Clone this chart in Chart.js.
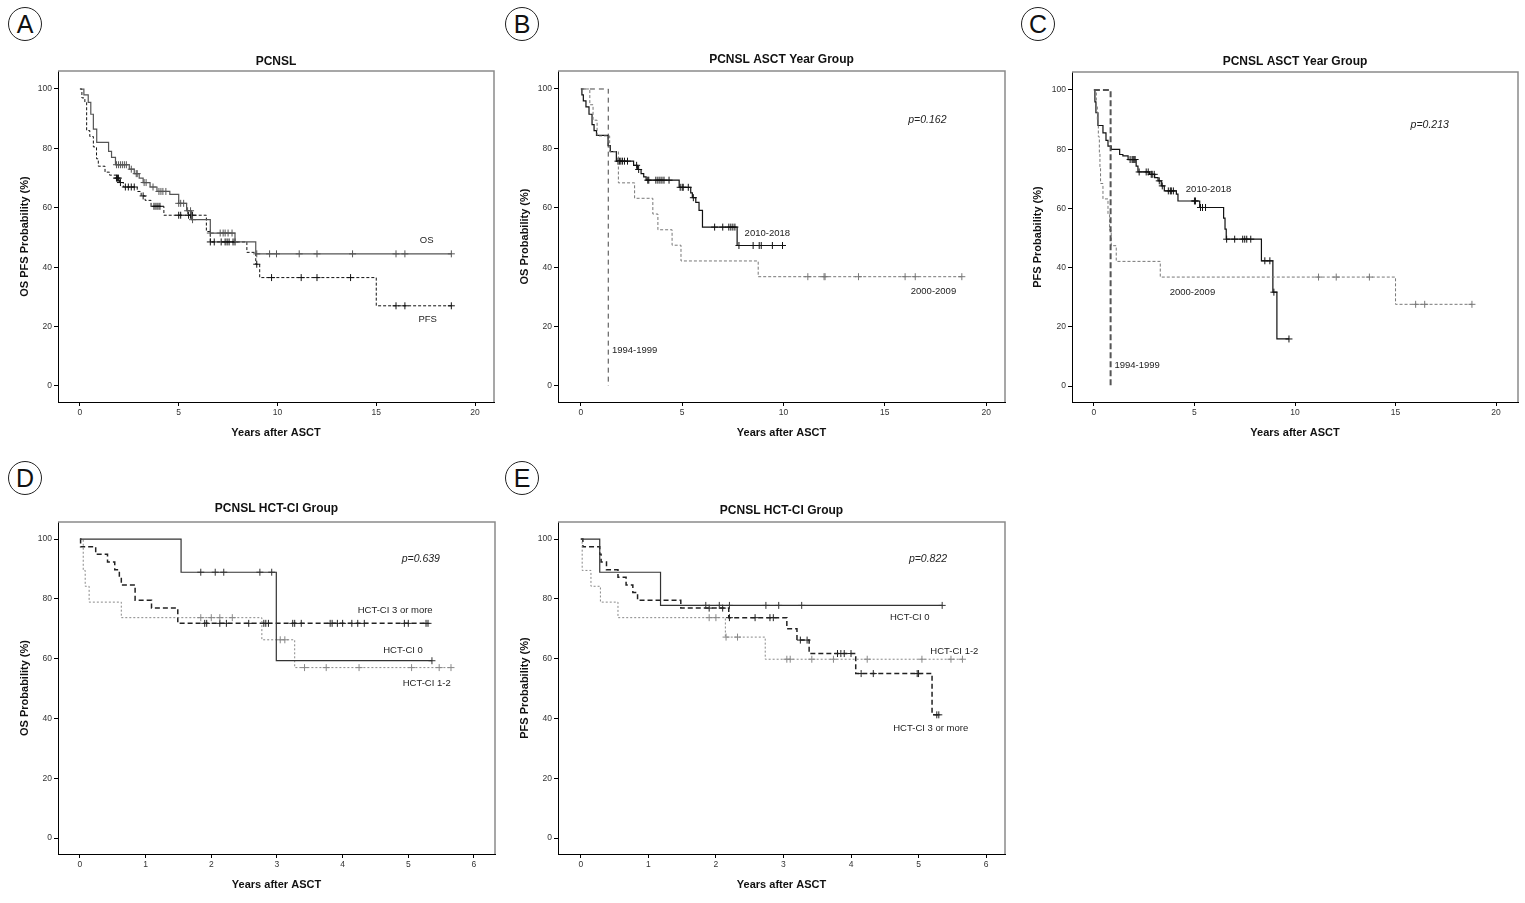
<!DOCTYPE html>
<html>
<head>
<meta charset="utf-8">
<title>PCNSL survival after ASCT</title>
<script src="https://cdn.jsdelivr.net/npm/chart.js"></script>
<style>
  body { margin:0; background:#fff; width:1525px; height:903px; position:relative; overflow:hidden; font-family:"Liberation Sans", Arial, sans-serif; }
  canvas { position:absolute; }
  .tag { position:absolute; width:32px; height:32px; border:1px solid #222; border-radius:50%; text-align:center; line-height:33px; font-size:25px; color:#111; }
</style>
</head>
<body>
<div class="tag" style="left:8px;top:7px">A</div>
<div class="tag" style="left:505px;top:7px">B</div>
<div class="tag" style="left:1021px;top:7px">C</div>
<div class="tag" style="left:8px;top:461px">D</div>
<div class="tag" style="left:505px;top:461px">E</div>

<canvas id="chartA" width="500" height="414" style="left:0;top:31px"></canvas>
<canvas id="chartB" width="510" height="414" style="left:500px;top:31px"></canvas>
<canvas id="chartC" width="515" height="413" style="left:1010px;top:32px"></canvas>
<canvas id="chartD" width="500" height="415" style="left:0;top:482px"></canvas>
<canvas id="chartE" width="510" height="415" style="left:500px;top:482px"></canvas>

<script>
// ---- data (years, survival %) ----
// A: whole cohort
const aOsTime = [0, 0.2, 0.42, 0.55, 0.68, 0.85, 1.45, 1.6, 1.8, 2.5, 2.75, 3.0, 3.2, 3.55, 3.9, 4.55, 5.0, 5.4, 5.65, 6.6, 7.85, 8.9, 18.8];
const aOsSurv = [100, 98, 95.5, 91.5, 86.5, 82, 79, 77, 74.5, 73, 71.5, 70, 68.5, 67, 65.5, 64.5, 61.5, 59, 56, 51.5, 48.5, 44.5, 44.5];
const aOsCens = [1.85, 1.95, 2.05, 2.15, 2.25, 2.35, 2.6, 2.85, 2.9, 3.25, 3.35, 3.7, 4.0, 4.1, 4.2, 4.35, 5.0, 5.1, 5.25, 5.45, 5.6, 5.7,
                 6.6, 7.1, 7.25, 7.35, 7.5, 7.7, 8.95, 9.6, 9.95, 11.1, 12.0, 13.8, 16.0, 16.45, 18.8];
const aPfsTime = [0, 0.1, 0.25, 0.34, 0.5, 0.68, 0.84, 0.93, 1.27, 1.5, 1.85, 2.0, 2.2, 2.9, 3.1, 3.3, 3.6, 4.25, 6.4, 6.6, 8.45, 8.9, 9.1, 15.0, 18.8];
const aPfsSurv = [100, 97, 95.5, 86, 84, 80.5, 76.5, 74, 72, 71, 70, 68.5, 67, 65.5, 64, 62.5, 60.5, 57.5, 52, 48.5, 45, 41, 36.5, 27, 27];
const aPfsCens = [1.85, 1.9, 1.95, 2.05, 2.3, 2.45, 2.6, 2.75, 3.2, 3.75, 3.85, 3.95, 4.05, 5.0, 5.1, 5.5, 5.6, 5.7,
                  6.6, 6.8, 7.15, 7.35, 7.45, 7.55, 7.75, 7.85, 8.95, 9.7, 11.2, 12.0, 13.7, 16.0, 16.45, 18.8];

// B: OS by ASCT year group
const b94Time = [0, 1.35];
const b94Surv = [100, 0];
const b00Time = [0, 0.44, 0.6, 0.8, 1.42, 1.85, 2.65, 3.55, 3.8, 4.5, 4.94, 8.75, 18.8];
const b00Surv = [100, 94.7, 89.5, 84.2, 78.9, 68.4, 63.2, 57.9, 52.6, 47.4, 42.1, 36.8, 36.8];
const b00Cens = [11.2, 12.0, 12.05, 13.7, 16.0, 16.5, 18.8];
const b10Time = [0, 0.05, 0.12, 0.25, 0.4, 0.55, 0.65, 0.77, 1.34, 1.45, 1.75, 2.6, 2.8, 2.97, 3.1, 3.22, 4.85, 5.42, 5.5, 5.67, 5.83, 6.0, 7.71, 10.0];
const b10Surv = [100, 98, 96, 94, 91.5, 88, 86, 84.4, 80.9, 78.9, 75.7, 74.3, 72.9, 71.5, 70.4, 69.3, 66.9, 65, 63.4, 61.8, 59.1, 53.5, 47.3, 47.3];
const b10Cens = [1.83, 1.9, 1.97, 2.05, 2.15, 2.3, 2.75, 2.85, 3.3, 3.35, 3.7, 3.8, 3.9, 4.0, 4.1, 4.35, 4.9, 5.0, 5.05, 5.3, 5.55,
                 6.6, 7.0, 7.3, 7.4, 7.5, 7.6, 7.8, 8.5, 8.8, 8.9, 9.45, 9.95];

// C: PFS by ASCT year group
const c94Time = [0, 0.83];
const c94Surv = [100, 0];
const c00Time = [0, 0.12, 0.17, 0.22, 0.27, 0.3, 0.33, 0.45, 0.7, 0.78, 0.86, 1.11, 3.3, 15.0, 18.8];
const c00Surv = [100, 94.7, 89.5, 84.2, 78.9, 73.7, 68.4, 63.2, 57.9, 52.6, 47.4, 42.1, 36.8, 27.6, 27.6];
const c00Cens = [11.17, 12.05, 13.7, 16.0, 16.45, 18.8];
const c10Time = [0, 0.05, 0.1, 0.2, 0.45, 0.6, 0.7, 0.86, 1.28, 1.44, 1.7, 2.1, 2.19, 2.77, 3.02, 3.19, 3.35, 3.5, 4.1, 4.18, 5.26, 6.45, 6.52, 6.58, 8.33, 8.9, 9.1, 9.7];
const c10Surv = [100, 96, 92.3, 88, 85.5, 83, 81, 79.9, 78.2, 77.7, 76.5, 74.3, 72.3, 71.5, 70.4, 69.3, 67.6, 65.9, 64.8, 62.5, 60.3, 56.7, 53, 49.6, 42.3, 31.7, 15.9, 15.9];
const c10Cens = [1.8, 1.9, 1.95, 2.0, 2.05, 2.25, 2.6, 2.7, 2.85, 2.9, 3.0, 3.25, 3.4, 3.7, 3.8, 3.85, 3.95, 5.0, 5.05, 5.3, 5.4, 5.55,
                 6.6, 7.0, 7.4, 7.5, 7.6, 7.8, 8.5, 8.75, 8.95, 9.7];

// D: OS by HCT-CI group
const d0Time = [0, 1.54, 2.99, 5.36];
const d0Surv = [100, 88.9, 59.3, 59.3];
const d0Cens = [1.84, 2.06, 2.19, 2.74, 2.92, 5.36];
const d12Time = [0, 0.05, 0.08, 0.14, 0.63, 2.77, 3.27, 5.65];
const d12Surv = [100, 89.5, 84.2, 78.9, 73.7, 66.3, 57.0, 57.0];
const d12Cens = [1.84, 2.0, 2.13, 2.32, 3.05, 3.12, 3.42, 3.75, 4.25, 5.05, 5.47, 5.65];
const d3Time = [0, 0.01, 0.24, 0.42, 0.53, 0.6, 0.63, 0.84, 1.09, 1.49, 5.3];
const d3Surv = [100, 97.4, 94.9, 92.3, 89.7, 87.2, 84.6, 79.5, 76.9, 71.8, 71.8];
const d3Cens = [1.9, 1.93, 2.13, 2.23, 2.57, 2.8, 2.83, 2.87, 3.24, 3.27, 3.37, 3.81, 3.84, 3.92, 4.0, 4.14, 4.23, 4.33, 4.94, 5.0, 5.27, 5.3];

// E: PFS by HCT-CI group
const e0Time = [0, 0.28, 1.18, 5.35];
const e0Surv = [100, 88.9, 77.8, 77.8];
const e0Cens = [1.85, 2.05, 2.2, 2.74, 2.93, 3.27, 5.35];
const e12Time = [0, 0.02, 0.15, 0.29, 0.55, 2.14, 2.73, 5.65];
const e12Surv = [100, 89.5, 84.2, 78.9, 73.7, 67.2, 59.8, 59.8];
const e12Cens = [1.9, 2.0, 2.15, 2.32, 3.05, 3.1, 3.42, 3.74, 4.24, 5.05, 5.48, 5.65];
const e3Time = [0, 0.03, 0.28, 0.3, 0.38, 0.55, 0.67, 0.77, 0.84, 1.48, 2.19, 3.05, 3.2, 3.38, 4.07, 5.2, 5.3];
const e3Surv = [100, 97.4, 94.9, 92.3, 89.7, 87.2, 84.6, 82.1, 79.5, 76.9, 73.7, 70.0, 66.2, 61.7, 55.0, 41.2, 41.2];
const e3Cens = [1.9, 2.1, 2.2, 2.58, 2.8, 2.85, 3.25, 3.35, 3.8, 3.85, 3.9, 4.0, 4.15, 4.33, 4.98, 5.0, 5.27, 5.3];

const yTicks = [0, 20, 40, 60, 80, 100];
const xTicksLong = [0, 5, 10, 15, 20];
const xTicksShort = [0, 1, 2, 3, 4, 5, 6];

// ---- helpers ----
function stepAt(times, surv, t) {
  let s = surv[0];
  for (let i = 0; i < times.length; i++) if (times[i] <= t) s = surv[i];
  return s;
}
function curve(times, surv, style) {
  return Object.assign({
    data: times.map((t, i) => ({x: t, y: surv[i]})),
    stepped: true, pointRadius: 0, fill: false, borderWidth: 1
  }, style);
}
function censors(times, surv, cens, style) {
  return {
    data: cens.map(t => ({x: t, y: stepAt(times, surv, t)})),
    showLine: false, pointStyle: 'cross', pointRadius: 3.5, borderWidth: 1,
    borderColor: style.borderColor
  };
}

const frame = {
  id: 'frame',
  afterDraw(chart) {
    const {ctx, chartArea: {left, top, right, bottom}} = chart;
    ctx.save();
    ctx.strokeStyle = '#8a8a8a';
    ctx.lineWidth = 1.5;
    ctx.beginPath();
    ctx.moveTo(left, top); ctx.lineTo(right, top); ctx.lineTo(right, bottom);
    ctx.stroke();
    ctx.restore();
  }
};

function textLabels(items) {
  return {
    id: 'kmText',
    afterDatasetsDraw(chart) {
      const {ctx, scales: {x, y}} = chart;
      ctx.save();
      ctx.fillStyle = '#222';
      ctx.textAlign = 'center';
      ctx.textBaseline = 'middle';
      items.forEach(it => {
        ctx.font = (it.italic ? 'italic 10.5px' : '9.5px') + ' "Liberation Sans", Arial, sans-serif';
        ctx.fillText(it.text, x.getPixelForValue(it.x), y.getPixelForValue(it.y));
      });
      ctx.restore();
    }
  };
}

function kmChart(id, p) {
  const axisFont = {family: '"Liberation Sans", Arial, sans-serif', size: 11, weight: 'bold', lineHeight: 1.2};
  const tickFont = {family: '"Liberation Sans", Arial, sans-serif', size: 8.5};
  new Chart(document.getElementById(id), {
    type: 'line',
    data: {datasets: p.datasets},
    options: {
      responsive: false,
      animation: false,
      layout: {padding: {left: 0, right: p.padRight, top: 0, bottom: 0}},
      plugins: {
        legend: {display: false},
        tooltip: {enabled: false},
        title: {
          display: true, text: p.title, color: '#111', fullSize: false,
          font: {family: '"Liberation Sans", Arial, sans-serif', size: 12, weight: 'bold', lineHeight: 1.2},
          padding: {top: p.titleTop, bottom: p.titleBottom}
        }
      },
      scales: {
        x: {
          type: 'linear', min: p.xMin, max: p.xMax,
          afterBuildTicks: s => { s.ticks = p.xTicks.map(v => ({value: v})); },
          afterFit: s => { s.height = 43; },
          ticks: {font: tickFont, color: '#333', padding: 2, maxRotation: 0, autoSkip: false},
          grid: {drawOnChartArea: false, drawTicks: true, tickLength: 4, color: '#000'},
          border: {display: true, color: '#000', width: 1},
          title: {display: true, text: 'Years after ASCT', color: '#111', font: axisFont, padding: {top: 0, bottom: 5.4}}
        },
        y: {
          type: 'linear', min: p.yMin, max: p.yMax,
          afterBuildTicks: s => { s.ticks = yTicks.map(v => ({value: v})); },
          afterFit: s => { s.width = p.yWidth; },
          ticks: {font: tickFont, color: '#333', padding: 2, autoSkip: false},
          grid: {drawOnChartArea: false, drawTicks: true, tickLength: 4, color: '#000'},
          border: {display: true, color: '#000', width: 1},
          title: {display: true, text: p.yTitle, color: '#111', font: axisFont, padding: {top: p.yTitlePad, bottom: 0}}
        }
      }
    },
    plugins: [frame, textLabels(p.labels)]
  });
}

// ---- line styles ----
const sOs   = {borderColor: '#555', borderWidth: 1.2};
const sPfs  = {borderColor: '#111', borderDash: [3, 2]};
const sNew  = {borderColor: '#111', borderWidth: 1.2};
const sMid  = {borderColor: '#777', borderDash: [3, 2]};
const sOld  = {borderColor: '#444', borderDash: [5, 4]};
const sOldC = {borderColor: '#555', borderDash: [6, 3], borderWidth: 2};
const sH0   = {borderColor: '#333', borderWidth: 1.2};
const sH12  = {borderColor: '#888', borderDash: [2, 2]};
const sH3   = {borderColor: '#222', borderDash: [5, 3], borderWidth: 1.5};

kmChart('chartA', {
  title: 'PCNSL', yTitle: 'OS PFS Probability (%)',
  xMin: -1.11, xMax: 20.96, yMin: -5.39, yMax: 106.06, xTicks: xTicksLong,
  yWidth: 58, padRight: 6, titleTop: 23.5, titleBottom: 2.1, yTitlePad: 18.4,
  datasets: [
    curve(aOsTime, aOsSurv, sOs), censors(aOsTime, aOsSurv, aOsCens, sOs),
    curve(aPfsTime, aPfsSurv, sPfs), censors(aPfsTime, aPfsSurv, aPfsCens, sPfs)
  ],
  labels: [{x: 17.55, y: 48.9, text: 'OS'}, {x: 17.6, y: 22.4, text: 'PFS'}]
});

kmChart('chartB', {
  title: 'PCNSL ASCT Year Group', yTitle: 'OS Probability (%)',
  xMin: -1.13, xMax: 20.93, yMin: -5.39, yMax: 106.06, xTicks: xTicksLong,
  yWidth: 58, padRight: 2, titleTop: 21.8, titleBottom: 3.8, yTitlePad: 18.4,
  datasets: [
    curve(b94Time, b94Surv, sOld),
    curve(b00Time, b00Surv, sMid), censors(b00Time, b00Surv, b00Cens, sMid),
    curve(b10Time, b10Surv, sNew), censors(b10Time, b10Surv, b10Cens, sNew)
  ],
  labels: [
    {x: 17.1, y: 89.5, text: 'p=0.162', italic: true},
    {x: 9.2, y: 51.3, text: '2010-2018'},
    {x: 17.4, y: 32, text: '2000-2009'},
    {x: 2.65, y: 11.9, text: '1994-1999'}
  ]
});

kmChart('chartC', {
  title: 'PCNSL ASCT Year Group', yTitle: 'PFS Probability (%)',
  xMin: -1.09, xMax: 21.09, yMin: -5.39, yMax: 106.06, xTicks: xTicksLong,
  yWidth: 62, padRight: 7, titleTop: 22.5, titleBottom: 3.1, yTitlePad: 21.4,
  datasets: [
    curve(c94Time, c94Surv, sOldC),
    curve(c00Time, c00Surv, sMid), censors(c00Time, c00Surv, c00Cens, sMid),
    curve(c10Time, c10Surv, sNew), censors(c10Time, c10Surv, c10Cens, sNew)
  ],
  labels: [
    {x: 16.7, y: 88.1, text: 'p=0.213', italic: true},
    {x: 5.7, y: 66.5, text: '2010-2018'},
    {x: 4.9, y: 31.7, text: '2000-2009'},
    {x: 2.15, y: 7, text: '1994-1999'}
  ]
});

kmChart('chartD', {
  title: 'PCNSL HCT-CI Group', yTitle: 'OS Probability (%)',
  xMin: -0.334, xMax: 6.32, yMin: -5.35, yMax: 105.7, xTicks: xTicksShort,
  yWidth: 58, padRight: 4, titleTop: 19.8, titleBottom: 5.8, yTitlePad: 18.4,
  datasets: [
    curve(d0Time, d0Surv, sH0), censors(d0Time, d0Surv, d0Cens, sH0),
    curve(d12Time, d12Surv, sH12), censors(d12Time, d12Surv, d12Cens, sH12),
    curve(d3Time, d3Surv, sH3), censors(d3Time, d3Surv, d3Cens, sH3)
  ],
  labels: [
    {x: 5.19, y: 93.4, text: 'p=0.639', italic: true},
    {x: 4.8, y: 76, text: 'HCT-CI 3 or more'},
    {x: 4.92, y: 62.6, text: 'HCT-CI 0'},
    {x: 5.28, y: 51.8, text: 'HCT-CI 1-2'}
  ]
});

kmChart('chartE', {
  title: 'PCNSL HCT-CI Group', yTitle: 'PFS Probability (%)',
  xMin: -0.338, xMax: 6.28, yMin: -5.35, yMax: 105.7, xTicks: xTicksShort,
  yWidth: 58, padRight: 2, titleTop: 21.8, titleBottom: 3.8, yTitlePad: 18.4,
  datasets: [
    curve(e0Time, e0Surv, sH0), censors(e0Time, e0Surv, e0Cens, sH0),
    curve(e12Time, e12Surv, sH12), censors(e12Time, e12Surv, e12Cens, sH12),
    curve(e3Time, e3Surv, sH3), censors(e3Time, e3Surv, e3Cens, sH3)
  ],
  labels: [
    {x: 5.14, y: 93.2, text: 'p=0.822', italic: true},
    {x: 4.87, y: 73.7, text: 'HCT-CI 0'},
    {x: 5.53, y: 62.5, text: 'HCT-CI 1-2'},
    {x: 5.18, y: 36.6, text: 'HCT-CI 3 or more'}
  ]
});
</script>
</body>
</html>
